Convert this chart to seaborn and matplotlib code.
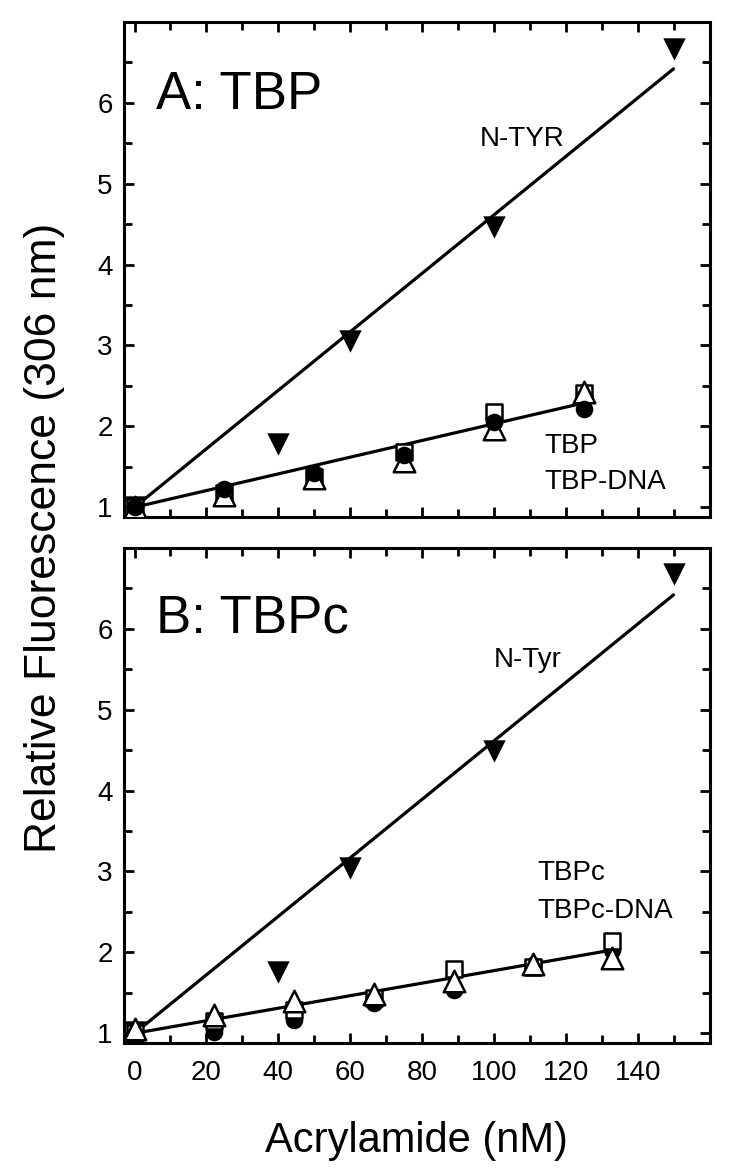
import numpy as np
import pandas as pd
import seaborn as sns
import matplotlib.pyplot as plt
from matplotlib.ticker import MultipleLocator

# ---- panel A: TBP ----
a_ntyr_x = [0, 40, 60, 100, 150]
a_ntyr_y = [1.0, 1.78, 3.06, 4.47, 6.67]
a_x = [0, 25, 50, 75, 100, 125]
a_circle_y = [1.0, 1.23, 1.42, 1.65, 2.05, 2.22]
a_square_y = [1.0, 1.18, 1.38, 1.68, 2.18, 2.41]
a_triangle_y = [1.0, 1.15, 1.36, 1.57, 1.97, 2.43]
a_fit_ntyr_x = [0, 150]
a_fit_ntyr_y = [1.0, 6.42]
a_fit_x = [0, 127]
a_fit_y = [1.0, 2.31]

# ---- panel B: TBPc ----
b_ntyr_x = [0, 40, 60, 100, 150]
b_ntyr_y = [1.02, 1.76, 3.04, 4.49, 6.68]
b_x = [0, 22.2, 44.4, 66.6, 88.8, 111, 133]
b_circle_y = [1.0, 1.02, 1.17, 1.38, 1.53, 1.84, 2.03]
b_square_y = [1.0, 1.15, 1.29, 1.44, 1.80, 1.82, 2.14]
b_triangle_y = [1.05, 1.23, 1.40, 1.48, 1.65, 1.86, 1.93]
b_fit_ntyr_x = [0, 150]
b_fit_ntyr_y = [1.0, 6.42]
b_fit_x = [0, 133]
b_fit_y = [1.0, 2.03]

x_ticks = [0, 20, 40, 60, 80, 100, 120, 140]
y_ticks = [1, 2, 3, 4, 5, 6]


def configStyle():
    sns.set_theme(style="ticks")
    plt.rcParams['font.family'] = ['Liberation Sans', 'DejaVu Sans']
    for k in ['text.color', 'axes.labelcolor', 'xtick.color', 'ytick.color',
              'axes.edgecolor']:
        plt.rcParams[k] = 'black'
    return True


def drawPanel(ax, ntyr_x, ntyr_y, fit_ntyr_x, fit_ntyr_y, xs, circ, sq, tri,
              fit_x, fit_y, circles_on_top):
    sns.lineplot(x=fit_ntyr_x, y=fit_ntyr_y, ax=ax, color='black', lw=2.3)
    sns.lineplot(x=fit_x, y=fit_y, ax=ax, color='black', lw=2.3)
    sns.scatterplot(x=ntyr_x, y=ntyr_y, ax=ax, marker='v', s=260,
                    color='black', edgecolor='black', linewidth=0, zorder=4)
    def circles(z):
        sns.scatterplot(x=xs, y=circ, ax=ax, marker='o', s=160,
                        color='black', edgecolor='black', linewidth=0, zorder=z)
    if not circles_on_top:
        circles(3)
    sns.scatterplot(x=xs, y=sq, ax=ax, marker='s', s=120, color='white',
                    edgecolor='black', linewidth=1.8, zorder=4)
    sns.scatterplot(x=xs, y=tri, ax=ax, marker='^', s=240, color='white',
                    edgecolor='black', linewidth=1.8, zorder=5)
    if circles_on_top:
        circles(6)

    ax.set_xlim(-3, 160)
    ax.set_ylim(0.88, 7.0)
    ax.set_xticks(x_ticks)
    ax.set_yticks(y_ticks)
    ax.xaxis.set_minor_locator(MultipleLocator(10))
    ax.yaxis.set_minor_locator(MultipleLocator(0.5))
    ax.tick_params(which='both', direction='in', top=True, right=True,
                   width=2, labelsize=20, colors='black')
    ax.tick_params(axis='x', pad=12)
    ax.tick_params(axis='y', pad=8)
    ax.tick_params(which='major', length=7)
    ax.tick_params(which='minor', length=6)
    for sp in ax.spines.values():
        sp.set_linewidth(2.2)
        sp.set_color('black')
    ax.set(xlabel='', ylabel='')


configStyle()
fig = plt.figure(figsize=(7.5, 11.76), dpi=100)
axA = fig.add_axes([0.165, 0.5604, 0.781, 0.421])
axB = fig.add_axes([0.165, 0.1131, 0.781, 0.421])

drawPanel(axA, a_ntyr_x, a_ntyr_y, a_fit_ntyr_x, a_fit_ntyr_y, a_x,
          a_circle_y, a_square_y, a_triangle_y, a_fit_x, a_fit_y, True)
drawPanel(axB, b_ntyr_x, b_ntyr_y, b_fit_ntyr_x, b_fit_ntyr_y, b_x,
          b_circle_y, b_square_y, b_triangle_y, b_fit_x, b_fit_y, False)
axA.tick_params(labelbottom=False)

axA.text(0.055, 5.92, 'A: TBP', transform=axA.get_yaxis_transform(),
         fontsize=38, va='baseline')
axA.text(96, 5.47, 'N-TYR', fontsize=20, va='baseline')
axA.text(114, 1.67, 'TBP', fontsize=20, va='baseline')
axA.text(114, 1.23, 'TBP-DNA', fontsize=20, va='baseline')

axB.text(0.055, 5.95, 'B: TBPc', transform=axB.get_yaxis_transform(),
         fontsize=38, va='baseline')
axB.text(100, 5.53, 'N-Tyr', fontsize=20, va='baseline')
axB.text(112, 2.89, 'TBPc', fontsize=20, va='baseline')
axB.text(112, 2.43, 'TBPc-DNA', fontsize=20, va='baseline')

fig.text(0.06, 0.5425, 'Relative Fluorescence (306 nm)', rotation=90,
         fontsize=32, ha='center', va='center')
fig.text(0.555, 0.03, 'Acrylamide (nM)', fontsize=30, ha='center',
         va='center')

plt.savefig('out.png', dpi=100)
